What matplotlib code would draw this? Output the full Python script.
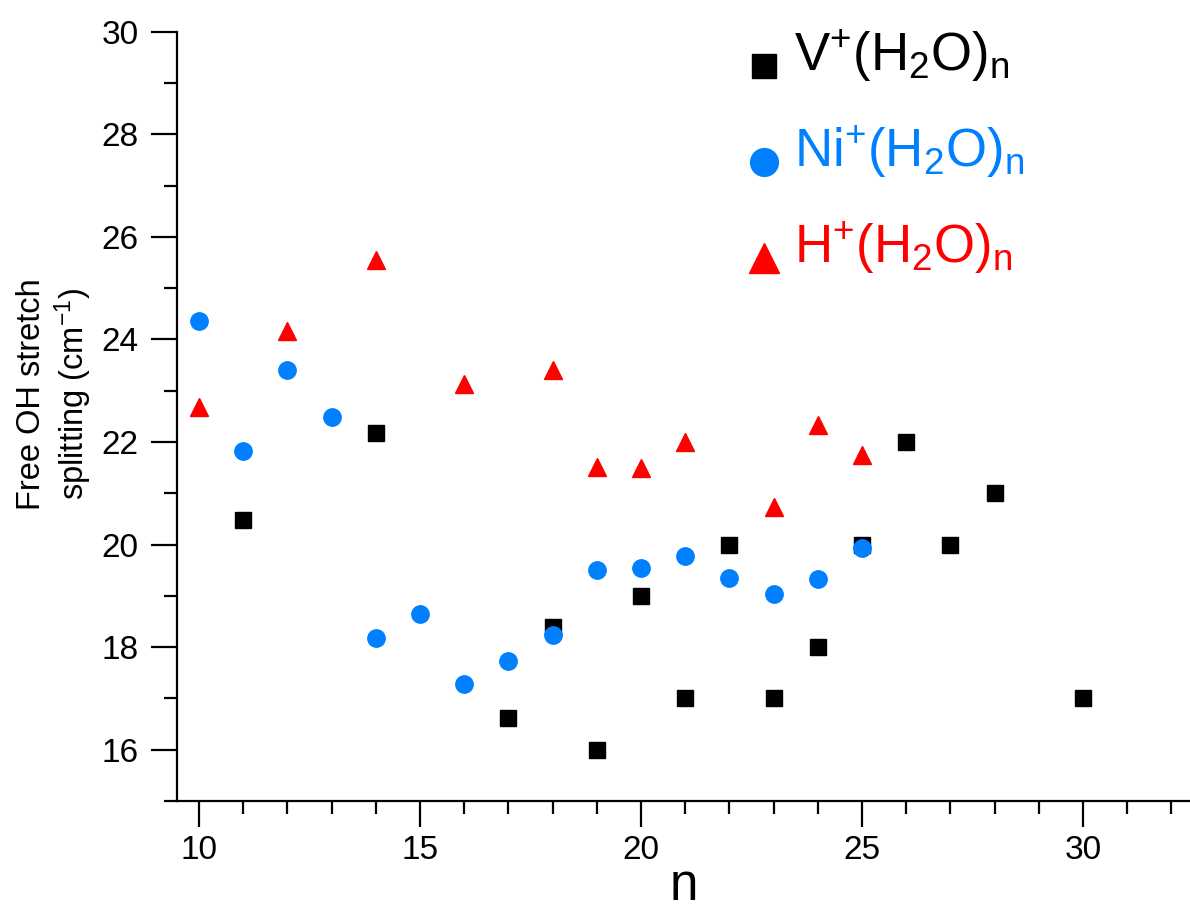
import matplotlib
matplotlib.use("Agg")
import matplotlib.pyplot as plt
import matplotlib.transforms as mtransforms
from matplotlib.legend_handler import HandlerLine2D
from matplotlib.ticker import MultipleLocator

plt.rcParams['font.family'] = ['Liberation Sans', 'DejaVu Sans']
plt.rcParams['mathtext.fontset'] = 'custom'
plt.rcParams['mathtext.rm'] = 'Liberation Sans'
plt.rcParams['mathtext.default'] = 'regular'

# ---- data ----
n_V = [11, 14, 17, 18, 19, 20, 21, 22, 23, 24, 25, 26, 27, 28, 30]
split_V = [20.47, 22.17, 16.62, 18.4, 16.0, 19.0, 17.0, 20.0, 17.0, 18.0, 20.0, 22.0, 20.0, 21.0, 17.0]

n_Ni = [10, 11, 12, 13, 14, 15, 16, 17, 18, 19, 20, 21, 22, 23, 24, 25]
split_Ni = [24.35, 21.82, 23.41, 22.48, 18.18, 18.64, 17.28, 17.73, 18.24, 19.51, 19.54, 19.77, 19.35, 19.03, 19.32, 19.94]

n_H = [10, 12, 14, 16, 18, 19, 20, 21, 23, 24, 25]
split_H = [22.68, 24.16, 25.54, 23.14, 23.40, 21.51, 21.49, 22.0, 20.74, 22.33, 21.75]

labels = [r'V$^{+}$(H$_{2}$O)$_{n}$', r'Ni$^{+}$(H$_{2}$O)$_{n}$', r'H$^{+}$(H$_{2}$O)$_{n}$']
colors = ['#000000', '#0080FF', '#FF0000']


class LoweredHandler(HandlerLine2D):
    """Legend handler that draws the marker a bit lower in its row."""
    def __init__(self, dy, **kw):
        super().__init__(**kw)
        self.dy = dy

    def create_artists(self, legend, orig_handle, xdescent, ydescent, width, height, fontsize, trans):
        t = mtransforms.Affine2D().translate(0, -self.dy) + trans
        return super().create_artists(legend, orig_handle, xdescent, ydescent, width, height, fontsize, t)


W, H = 1190, 913
fig = plt.figure(figsize=(W / 100, H / 100), dpi=100)
ax = fig.add_axes([177 / W, 112 / H, (W - 177) / W, (801 - 31.7) / H])

l1, = ax.plot(n_V, split_V, ls='none', marker='s', ms=11, color=colors[0], label=labels[0])
l2, = ax.plot(n_Ni, split_Ni, ls='none', marker='o', ms=12.5, color=colors[1], label=labels[1])
l3, = ax.plot(n_H, split_H, ls='none', marker='^', ms=13.5, color=colors[2], label=labels[2])

ax.set_xlim(9.5, 32.42)
ax.set_ylim(15, 30)
ax.xaxis.set_major_locator(MultipleLocator(5))
ax.xaxis.set_minor_locator(MultipleLocator(1))
ax.yaxis.set_major_locator(MultipleLocator(2))
ax.yaxis.set_minor_locator(MultipleLocator(1))

for s in ['top', 'right']:
    ax.spines[s].set_visible(False)
for s in ['left', 'bottom']:
    ax.spines[s].set_linewidth(1.6)

ax.tick_params(which='major', direction='out', length=18.7, width=1.6, labelsize=24)
ax.tick_params(which='minor', direction='out', length=9.4, width=1.6)
ax.tick_params(axis='y', which='major', pad=9)
ax.tick_params(axis='x', which='major', pad=6)

ax.set_xlabel('n', fontsize=37, labelpad=-3)

fig.text(55 / W, 1 - 394 / H, 'Free OH stretch\nsplitting (cm$^{-1}$)', rotation=90,
         ha='center', va='center', fontsize=23.5, multialignment='center', linespacing=1.15)

hmap = {l: LoweredHandler(9.5) for l in (l1, l2, l3)}
leg = ax.legend(handles=[l1, l2, l3], loc='upper left', bbox_to_anchor=(748 / W, 1 - 28 / H),
                bbox_transform=fig.transFigure, frameon=False, fontsize=38,
                markerscale=1.6, handlelength=0.6, handletextpad=0.27, labelspacing=0.75,
                borderpad=0, borderaxespad=0, labelcolor='linecolor', handler_map=hmap)

fig.savefig('out.png', dpi=100)
